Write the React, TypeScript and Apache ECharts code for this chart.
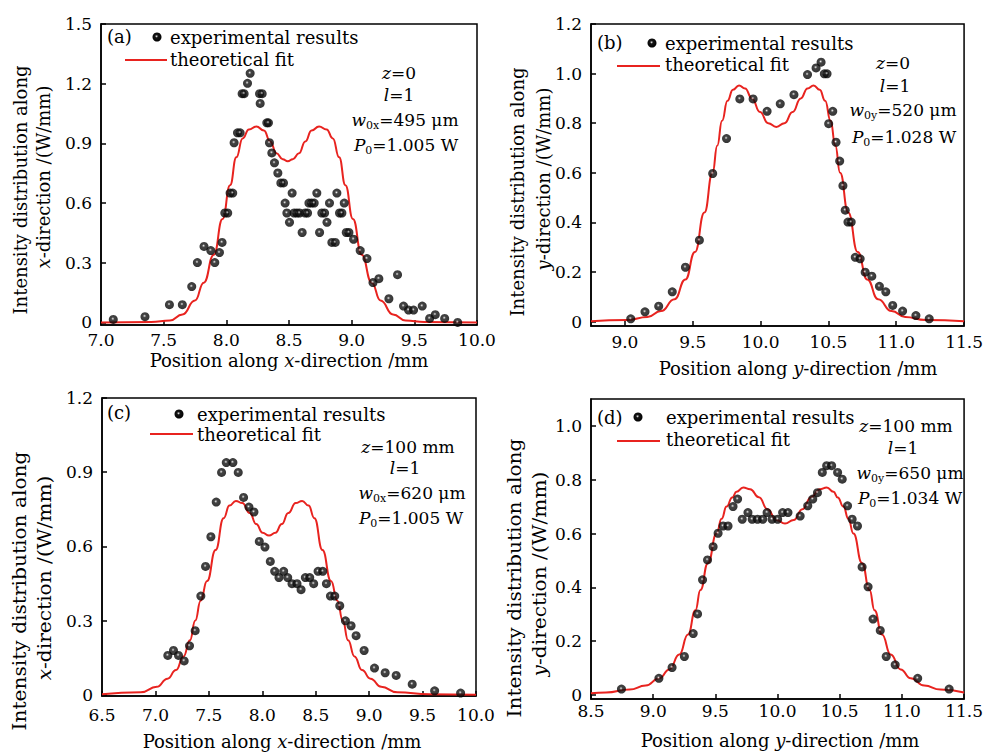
import React, { useEffect, useRef } from 'react';
import * as echarts from 'echarts';

// ---------- Panel (a): x-direction, z = 0 ----------
const aExp: number[][] = [
  [7.098, 0.015], [7.351, 0.029], [7.546, 0.089], [7.649, 0.089], [7.724, 0.18], [7.769, 0.301],
  [7.822, 0.382], [7.876, 0.361], [7.908, 0.301], [7.945, 0.351], [7.966, 0.402], [7.988, 0.55],
  [8.011, 0.55], [8.03, 0.65], [8.051, 0.65], [8.062, 0.903], [8.089, 0.953], [8.11, 0.953],
  [8.126, 1.15], [8.142, 1.15], [8.169, 1.202], [8.19, 1.252], [8.265, 1.15], [8.286, 1.15],
  [8.27, 1.101], [8.323, 1.003], [8.336, 1.003], [8.344, 0.903], [8.363, 0.852], [8.384, 0.802],
  [8.411, 0.751], [8.435, 0.701], [8.456, 0.701], [8.469, 0.6], [8.483, 0.55], [8.504, 0.503],
  [8.525, 0.65], [8.541, 0.55], [8.563, 0.55], [8.584, 0.55], [8.605, 0.452], [8.629, 0.55],
  [8.648, 0.55], [8.659, 0.6], [8.68, 0.6], [8.701, 0.6], [8.722, 0.65], [8.744, 0.452],
  [8.762, 0.55], [8.784, 0.55], [8.803, 0.503], [8.823, 0.6], [8.842, 0.402], [8.869, 0.402],
  [8.882, 0.65], [8.903, 0.55], [8.922, 0.55], [8.941, 0.6], [8.957, 0.452], [8.978, 0.452],
  [9.015, 0.418], [9.068, 0.361], [9.122, 0.321], [9.17, 0.2], [9.217, 0.22], [9.297, 0.119],
  [9.366, 0.24], [9.414, 0.082], [9.454, 0.062], [9.494, 0.062], [9.563, 0.082], [9.622, 0.02],
  [9.667, 0.039], [9.742, 0.02], [9.846, 0.0],
];
const aFit: number[][] = [
  [7.0, 0], [7.4, 0.002], [7.55, 0.01], [7.65, 0.04], [7.75, 0.11], [7.82, 0.2], [7.9, 0.34],
  [7.97, 0.52], [8.03, 0.69], [8.08, 0.83], [8.13, 0.925], [8.18, 0.97], [8.24, 0.985], [8.3, 0.965],
  [8.35, 0.91], [8.4, 0.85], [8.45, 0.82], [8.49, 0.81], [8.53, 0.82], [8.58, 0.85], [8.63, 0.91],
  [8.68, 0.965], [8.74, 0.985], [8.8, 0.97], [8.85, 0.925], [8.9, 0.83], [8.95, 0.69], [9.01, 0.52],
  [9.08, 0.34], [9.16, 0.2], [9.23, 0.11], [9.33, 0.04], [9.43, 0.01], [9.58, 0.002], [10.0, 0],
];
const aXTicks = [7.0, 7.5, 8.0, 8.5, 9.0, 9.5, 10.0];
const aYTicks = [0, 0.3, 0.6, 0.9, 1.2, 1.5];

// ---------- Panel (b): y-direction, z = 0 ----------
const bExp: number[][] = [
  [9.043, 0.011], [9.148, 0.039], [9.249, 0.062], [9.349, 0.12], [9.446, 0.219], [9.549, 0.328],
  [9.647, 0.597], [9.749, 0.738], [9.847, 0.898], [9.945, 0.898], [10.048, 0.848], [10.145, 0.878],
  [10.246, 0.915], [10.346, 0.996], [10.409, 1.023], [10.446, 1.046], [10.47, 0.999], [10.49, 0.999],
  [10.532, 0.848], [10.502, 0.798], [10.556, 0.723], [10.583, 0.647], [10.607, 0.548], [10.624, 0.449],
  [10.644, 0.401], [10.668, 0.401], [10.698, 0.259], [10.734, 0.253], [10.771, 0.199], [10.82, 0.183],
  [10.876, 0.142], [10.923, 0.12], [10.974, 0.065], [11.047, 0.042], [11.145, 0.024], [11.243, 0.011],
];
const bFit: number[][] = [
  [8.75, 0.001], [9.016, 0.006], [9.166, 0.018], [9.266, 0.042], [9.366, 0.09], [9.446, 0.17],
  [9.516, 0.28], [9.586, 0.44], [9.646, 0.6], [9.681, 0.71], [9.716, 0.81], [9.756, 0.89],
  [9.796, 0.935], [9.841, 0.952], [9.886, 0.94], [9.936, 0.9], [9.996, 0.845], [10.056, 0.8],
  [10.116, 0.785], [10.176, 0.8], [10.236, 0.845], [10.296, 0.9], [10.346, 0.94], [10.391, 0.952],
  [10.436, 0.935], [10.476, 0.89], [10.516, 0.81], [10.551, 0.71], [10.586, 0.6], [10.646, 0.44],
  [10.716, 0.28], [10.786, 0.17], [10.866, 0.09], [10.966, 0.042], [11.066, 0.018], [11.216, 0.006],
  [11.5, 0.001],
];
const bXTicks = [9.0, 9.5, 10.0, 10.5, 11.0, 11.5];
const bYTicks = [0, 0.2, 0.4, 0.6, 0.8, 1.0, 1.2];

// ---------- Panel (c): x-direction, z = 100 mm ----------
const cExp: number[][] = [
  [7.116, 0.159], [7.169, 0.179], [7.216, 0.159], [7.269, 0.137], [7.319, 0.198], [7.372, 0.259],
  [7.425, 0.399], [7.469, 0.519], [7.519, 0.639], [7.569, 0.779], [7.619, 0.899], [7.663, 0.939],
  [7.725, 0.939], [7.775, 0.899], [7.825, 0.798], [7.875, 0.759], [7.922, 0.739], [7.972, 0.62],
  [8.025, 0.597], [8.075, 0.539], [8.116, 0.499], [8.156, 0.474], [8.2, 0.499], [8.238, 0.474],
  [8.278, 0.449], [8.325, 0.449], [8.363, 0.425], [8.403, 0.474], [8.444, 0.474], [8.481, 0.449],
  [8.522, 0.499], [8.566, 0.499], [8.6, 0.449], [8.638, 0.399], [8.678, 0.399], [8.725, 0.36],
  [8.778, 0.299], [8.831, 0.279], [8.878, 0.239], [8.953, 0.179], [9.05, 0.108], [9.15, 0.089],
  [9.253, 0.078], [9.403, 0.043], [9.613, 0.016], [9.856, 0.007],
];
const cFit: number[][] = [
  [6.5, 0.002], [6.863, 0.01], [7.013, 0.032], [7.113, 0.065], [7.193, 0.1], [7.263, 0.155],
  [7.323, 0.22], [7.373, 0.3], [7.423, 0.38], [7.483, 0.46], [7.563, 0.585], [7.638, 0.714],
  [7.693, 0.765], [7.753, 0.784], [7.813, 0.775], [7.883, 0.735], [7.943, 0.69], [8.003, 0.655],
  [8.063, 0.644], [8.123, 0.655], [8.183, 0.69], [8.243, 0.735], [8.313, 0.775], [8.373, 0.784],
  [8.433, 0.765], [8.488, 0.714], [8.563, 0.585], [8.643, 0.46], [8.703, 0.38], [8.753, 0.3],
  [8.803, 0.22], [8.863, 0.155], [8.933, 0.1], [9.013, 0.065], [9.113, 0.032], [9.263, 0.01],
  [9.563, 0.002], [10.0, 0],
];
const cXTicks = [6.5, 7.0, 7.5, 8.0, 8.5, 9.0, 9.5, 10.0];
const cYTicks = [0, 0.3, 0.6, 0.9, 1.2];

// ---------- Panel (d): y-direction, z = 100 mm ----------
const dExp: number[][] = [
  [8.745, 0.022], [9.046, 0.062], [9.152, 0.102], [9.251, 0.143], [9.322, 0.228], [9.357, 0.301],
  [9.397, 0.428], [9.437, 0.502], [9.482, 0.551], [9.522, 0.601], [9.562, 0.628], [9.602, 0.628],
  [9.642, 0.7], [9.679, 0.728], [9.716, 0.653], [9.762, 0.678], [9.796, 0.653], [9.839, 0.653],
  [9.881, 0.653], [9.916, 0.678], [9.956, 0.653], [10.001, 0.653], [10.041, 0.678], [10.084, 0.678],
  [10.182, 0.665], [10.243, 0.703], [10.283, 0.728], [10.321, 0.752], [10.36, 0.827], [10.395, 0.852],
  [10.435, 0.852], [10.483, 0.827], [10.52, 0.802], [10.563, 0.703], [10.6, 0.653], [10.643, 0.628],
  [10.68, 0.476], [10.728, 0.402], [10.768, 0.282], [10.826, 0.24], [10.874, 0.143], [10.946, 0.112],
  [11.127, 0.062], [11.38, 0.022],
];
const dFit: number[][] = [
  [8.5, 0.006], [8.62, 0.009], [8.81, 0.02], [8.94, 0.035], [9.05, 0.062], [9.13, 0.095],
  [9.21, 0.15], [9.28, 0.225], [9.34, 0.315], [9.38, 0.39], [9.44, 0.49], [9.51, 0.6],
  [9.55, 0.655], [9.59, 0.7], [9.636, 0.734], [9.67, 0.755], [9.724, 0.771], [9.78, 0.765],
  [9.85, 0.735], [9.92, 0.69], [9.99, 0.65], [10.06, 0.637], [10.13, 0.65], [10.2, 0.69],
  [10.27, 0.735], [10.34, 0.765], [10.396, 0.771], [10.45, 0.755], [10.484, 0.734], [10.53, 0.7],
  [10.57, 0.655], [10.61, 0.6], [10.68, 0.49], [10.74, 0.39], [10.78, 0.315], [10.84, 0.225],
  [10.91, 0.15], [10.99, 0.095], [11.07, 0.062], [11.18, 0.035], [11.31, 0.02], [11.5, 0.009],
];
const dXTicks = [8.5, 9.0, 9.5, 10.0, 10.5, 11.0, 11.5];
const dYTicks = [0, 0.2, 0.4, 0.6, 0.8, 1.0];

const FF = '"DejaVu Serif", serif';
const RED = '#e8231f';

const RICH: any = {
  i: { fontFamily: FF, fontSize: 17, fontStyle: 'italic', lineHeight: 22 },
  s: { fontFamily: FF, fontSize: 11, verticalAlign: 'bottom', lineHeight: 12 },
  ti: { fontFamily: FF, fontSize: 18, fontStyle: 'italic' },
};

function txt(x: number, y: number, text: string, o: any = {}) {
  return {
    type: 'text',
    x,
    y,
    silent: true,
    rotation: o.rotation || 0,
    scaleX: o.scaleX || 1,
    style: {
      text,
      fontFamily: FF,
      fontSize: o.fontSize || 18,
      lineHeight: o.lineHeight || 22,
      fill: '#000',
      align: o.align || 'left',
      verticalAlign: 'middle',
      rich: RICH,
    },
  };
}

export default function App() {
  const ref = useRef<HTMLDivElement>(null);
  useEffect(() => {
    document.body.style.margin = '0';
    const chart = echarts.init(ref.current!, null, { renderer: 'svg' });
    const ball = () =>
      new echarts.graphic.RadialGradient(0.45, 0.42, 0.6, [
        { offset: 0, color: '#ffffff' },
        { offset: 0.1, color: '#9a9a9a' },
        { offset: 0.3, color: '#151515' },
        { offset: 1, color: '#000000' },
      ]);

    const panels = [
      { grid: { left: 101, top: 24, width: 376, height: 301 }, x: [7, 10], y: [-0.013, 1.5], xt: aXTicks, yt: aYTicks, exp: aExp, fit: aFit, lm: 6 },
      { grid: { left: 591, top: 24, width: 375, height: 302 }, x: [8.75, 11.5], y: [-0.018, 1.2], xt: bXTicks, yt: bYTicks, exp: bExp, fit: bFit, lm: 7 },
      { grid: { left: 102, top: 398, width: 374, height: 298 }, x: [6.5, 10], y: [-0.005, 1.2], xt: cXTicks, yt: cYTicks, exp: cExp, fit: cFit, lm: 10 },
      { grid: { left: 591, top: 399, width: 376, height: 300 }, x: [8.5, 11.5], y: [-0.015, 1.1], xt: dXTicks, yt: dYTicks, exp: dExp, fit: dFit, lm: 3 },
    ];

    const axisLine = { show: true, onZero: false, lineStyle: { color: '#000', width: 1.5 } };

    const grid = panels.map((p) => ({ ...p.grid, show: true, borderColor: '#000', borderWidth: 1.5, containLabel: false }));
    const xAxis = panels.map((p, i) => ({
      type: 'value', gridIndex: i, min: p.x[0], max: p.x[1],
      axisLine,
      axisTick: { show: true, inside: true, length: 5, customValues: p.xt, lineStyle: { color: '#000', width: 1.5 } },
      axisLabel: { customValues: p.xt, formatter: (v: number) => v.toFixed(1), color: '#000', fontFamily: FF, fontSize: 17, margin: p.lm },
      splitLine: { show: false },
    }));
    const yAxis = panels.map((p, i) => ({
      type: 'value', gridIndex: i, min: p.y[0], max: p.y[1],
      axisLine,
      axisTick: { show: true, inside: true, length: 5, customValues: p.yt, lineStyle: { color: '#000', width: 1.5 } },
      axisLabel: { customValues: p.yt, formatter: (v: number) => (v === 0 ? '0' : v.toFixed(1)), color: '#000', fontFamily: FF, fontSize: 17, margin: 9 },
      splitLine: { show: false },
    }));
    const series: any[] = [];
    panels.forEach((p, i) => {
      series.push({
        type: 'line', name: 'theoretical fit', xAxisIndex: i, yAxisIndex: i, data: p.fit,
        showSymbol: false, symbol: 'none', smooth: 0.5, smoothMonotone: 'x',
        lineStyle: { color: RED, width: 2 }, z: 2,
      });
      series.push({
        type: 'scatter', name: 'experimental results', xAxisIndex: i, yAxisIndex: i, data: p.exp,
        symbolSize: 9, itemStyle: { color: ball() }, z: 3,
      });
    });

    const legendBlock = (lab: string, lx: number, ly: number, dx: number, dy: number, tx1: number, l1: number, l2: number, ly2: number, tx2: number, ty2: number) => [
      txt(lx, ly, lab),
      { type: 'circle', silent: true, shape: { cx: dx, cy: dy, r: 4.5 }, style: { fill: ball() } },
      txt(tx1, dy, 'experimental results'),
      { type: 'line', silent: true, shape: { x1: l1, y1: ly2, x2: l2, y2: ly2 }, style: { stroke: RED, lineWidth: 2 } },
      txt(tx2, ty2, 'theoretical fit'),
    ];
    const annot = (c1: number, y1: number, zt: string, c2: number, y2: number, c3: number, y3: number, w: string, c4: number, y4: number, pw: string) => [
      txt(c1, y1, zt, { align: 'center', fontSize: 17 }),
      txt(c2, y2, '{i|l}=1', { align: 'center', fontSize: 17 }),
      txt(c3, y3, w, { align: 'center', fontSize: 17 }),
      txt(c4, y4, pw, { align: 'center', fontSize: 17 }),
    ];
    const ytitle = (x1: number, y1: number, x2: number, y2: number, v: string, sc: number) => [
      txt(x1, y1, 'Intensity distribution along', { align: 'center', rotation: Math.PI / 2, scaleX: sc }),
      txt(x2, y2, '{ti|' + v + '}-direction /(W/mm)', { align: 'center', rotation: Math.PI / 2, scaleX: sc }),
    ];

    const graphic: any[] = [
      ...legendBlock('(a)', 107, 36, 157, 37, 170, 125, 167, 60, 170, 59),
      ...legendBlock('(b)', 597, 42, 652, 43, 665, 617, 660, 66, 665, 64),
      ...legendBlock('(c)', 107, 412, 179, 414, 197, 150, 193, 434, 197, 434),
      ...legendBlock('(d)', 597, 417, 638, 417, 666, 617, 660, 441, 666, 439),
      ...annot(399, 73, '{i|z}=0', 399, 95, 405, 120, '{i|w}{s|0x}=495 μm', 406, 145, '{i|P}{s|0}=1.005 W'),
      ...annot(893, 63, '{i|z}=0', 895, 86, 903, 110, '{i|w}{s|0y}=520 μm', 904, 137, '{i|P}{s|0}=1.028 W'),
      ...annot(408, 447, '{i|z}=100 mm', 405, 468, 412, 493, '{i|w}{s|0x}=620 μm', 411, 518, '{i|P}{s|0}=1.005 W'),
      ...annot(906, 426, '{i|z}=100 mm', 903, 448, 910, 473, '{i|w}{s|0y}=650 μm', 910, 498, '{i|P}{s|0}=1.034 W'),
      ...ytitle(20, 190, 43, 177, 'x', 1),
      ...ytitle(517, 192, 543, 179, 'y', 1),
      ...ytitle(20, 591, 45, 578, 'x', 1.12),
      ...ytitle(515, 578, 540, 574, 'y', 1.12),
      txt(289, 360, 'Position along {ti|x}-direction /mm', { align: 'center' }),
      txt(798, 368, 'Position along {ti|y}-direction /mm', { align: 'center' }),
      txt(282, 741, 'Position along {ti|x}-direction /mm', { align: 'center' }),
      txt(780, 740, 'Position along {ti|y}-direction /mm', { align: 'center' }),
    ];

    chart.setOption({
      animation: false,
      backgroundColor: '#fff',
      grid,
      xAxis,
      yAxis,
      series,
      graphic,
    } as any);
    return () => chart.dispose();
  }, []);
  return <div ref={ref} style={{ position: 'absolute', left: 0, top: 0, width: 986, height: 752 }} />;
}
